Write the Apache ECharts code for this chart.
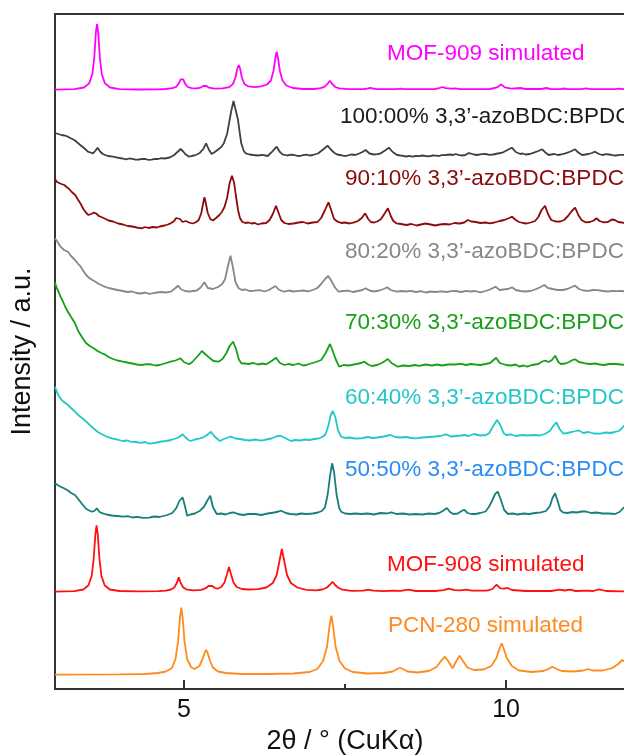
<!DOCTYPE html>
<html><head><meta charset="utf-8">
<script src="https://cdn.jsdelivr.net/npm/echarts@6/dist/echarts.min.js"></script>
<style>html,body{margin:0;padding:0;background:#fff;overflow:hidden}#c{width:624px;height:756px}</style>
</head><body><div id="c"></div><script>
const traceNames = ['MOF-909 simulated','100:00% 3,3\u2019-azoBDC:BPDC','90:10% 3,3\u2019-azoBDC:BPDC','80:20% 3,3\u2019-azoBDC:BPDC','70:30% 3,3\u2019-azoBDC:BPDC','60:40% 3,3\u2019-azoBDC:BPDC','50:50% 3,3\u2019-azoBDC:BPDC','MOF-908 simulated','PCN-280 simulated'];
const offsets = [599, 533, 464, 397, 324, 247, 172, 97, 14];
const lineColors = ['#ff00ff','#404040','#8b0a0a','#878787','#17a017','#22c8c8','#167e7c','#ff1010','#ff8a1e'];
const labelColors = ['#ff00ff','#1a1a1a','#8b0a0a','#878787','#17a017','#22c8c8','#2a8cf5','#ff1010','#ff8a1e'];
const labelPos = [[387,54],[340,117],[345,179],[345,252],[345,323],[345,398],[345,470],[387,565],[388,626]];
const xTicks = [5, 10];
const xMinorTicks = [7.5];

const mof909 = [[3.00,0.4],[3.30,0.9],[3.45,2.5],[3.53,6.6],[3.58,16],[3.61,33],[3.635,58],[3.653,66],[3.67,58],[3.695,33],[3.725,16],[3.775,6.6],[3.855,2.5],[4.00,0.9],[4.3,0.5],[4.6,0.7],[4.72,1],[4.82,1.8],[4.88,3.2],[4.92,6.4],[4.95,10.6],[4.969,12.3],[4.99,10.6],[5.02,6.2],[5.06,3],[5.12,1.8],[5.2,1.6],[5.26,2.4],[5.30,4],[5.325,5.7],[5.35,4],[5.39,2.3],[5.47,1.4],[5.6,1.6],[5.70,2.8],[5.76,5.9],[5.80,12.5],[5.83,21.5],[5.851,25],[5.872,21.5],[5.90,12.5],[5.94,6],[6.0,3.6],[6.1,2.8],[6.2,3.6],[6.29,5.5],[6.35,9.5],[6.39,19],[6.42,32],[6.44,38.3],[6.46,32],[6.49,19],[6.53,9.5],[6.59,4.5],[6.69,2],[6.85,1],[7.02,1],[7.12,1.8],[7.18,3.2],[7.225,5.8],[7.265,9.3],[7.305,5.8],[7.35,3],[7.41,1.6],[7.55,0.8],[7.80,1],[7.86,1.6],[7.895,2.2],[7.93,1.5],[8.0,0.8],[8.3,0.8],[8.36,1.3],[8.42,0.8],[8.9,1],[8.96,1.9],[9.01,3],[9.06,1.8],[9.15,1.3],[9.21,1.7],[9.28,0.9],[9.75,1],[9.86,2.6],[9.923,5.5],[9.98,2.6],[10.08,1.3],[10.22,2],[10.3,1],[10.55,1],[10.62,2],[10.69,1],[10.84,0.9],[10.9,1.5],[10.96,0.9],[11.17,0.9],[11.24,1.7],[11.31,0.9],[11.69,0.9],[11.75,1.4],[11.82,0.8],[12.0,0.6]];

const azo100 = [[3.0,23],[3.05,22],[3.1,21],[3.15,20.5],[3.2,19.3],[3.25,17.5],[3.3,16],[3.36,12.7],[3.41,10],[3.45,8],[3.51,4.3],[3.55,3.5],[3.59,2.7],[3.63,5.5],[3.66,8.3],[3.7,4.5],[3.74,2],[3.78,1],[3.82,0],[3.9,-0.7],[3.95,-1.3],[4.0,-2],[4.05,-2.5],[4.1,-3.3],[4.15,-2.5],[4.2,-2.8],[4.25,-3.7],[4.3,-3.5],[4.35,-2.8],[4.4,-3],[4.45,-3.8],[4.5,-3.6],[4.55,-2.8],[4.6,-3],[4.65,-2.2],[4.7,-2.5],[4.78,-1.5],[4.85,1],[4.9,4],[4.95,7],[4.99,4.5],[5.02,2],[5.08,-0.7],[5.12,0],[5.16,0.5],[5.2,1.5],[5.24,2.7],[5.3,7],[5.345,12.7],[5.39,6],[5.43,2],[5.48,4],[5.52,6],[5.58,9],[5.62,12.7],[5.67,22],[5.70,32.7],[5.735,45],[5.77,55],[5.80,47],[5.84,36],[5.865,24],[5.89,12.7],[5.93,5],[5.96,2.7],[6.02,1.5],[6.08,1],[6.15,0.5],[6.22,1.2],[6.3,0],[6.37,4.3],[6.44,9.3],[6.49,4],[6.53,1.7],[6.6,0.5],[6.66,1.3],[6.71,1],[6.76,0.2],[6.8,0],[6.85,0.8],[6.9,1.3],[6.95,0.5],[7.0,1],[7.08,2.5],[7.15,6],[7.23,10.3],[7.28,6.5],[7.33,3.3],[7.38,1.5],[7.42,1],[7.47,0.3],[7.51,0],[7.56,0.8],[7.6,1.5],[7.66,1],[7.72,2.5],[7.77,4],[7.82,6],[7.88,2.5],[7.95,1.5],[8.0,1.8],[8.05,2.5],[8.12,5.5],[8.18,8.3],[8.24,4],[8.31,1],[8.36,0.5],[8.4,0.2],[8.45,-0.5],[8.5,0.2],[8.545,-0.7],[8.6,0],[8.65,-0.2],[8.7,0.5],[8.75,0],[8.8,-0.3],[8.86,0.5],[8.91,0.3],[8.96,0],[9.0,0.8],[9.06,1],[9.13,1.5],[9.18,1],[9.215,2],[9.26,1.2],[9.3,0.5],[9.37,1],[9.41,2.8],[9.45,2.5],[9.5,1.5],[9.55,1],[9.62,1.8],[9.68,2],[9.74,1.2],[9.8,1.5],[9.87,2.5],[9.94,3.3],[10.02,6],[10.09,8.3],[10.15,4],[10.22,2],[10.26,2.5],[10.3,1.5],[10.37,2],[10.43,3.3],[10.5,5],[10.56,6.7],[10.61,3.5],[10.66,1],[10.7,1.5],[10.75,2],[10.8,1],[10.85,1.5],[10.92,2.7],[11.0,4.5],[11.07,6.7],[11.12,3.5],[11.18,1],[11.23,1.5],[11.28,2],[11.33,3],[11.38,4.3],[11.44,2],[11.49,1],[11.55,1.8],[11.6,1.5],[11.65,0.8],[11.7,0.5],[11.77,1.2],[11.85,1],[12.0,1]];

const azo90 = [[3.0,46],[3.03,43],[3.06,45],[3.1,41],[3.143,40],[3.18,38],[3.22,36],[3.26,33],[3.314,30],[3.36,25],[3.40,21],[3.44,16],[3.485,12],[3.52,10],[3.56,11],[3.6,12.3],[3.64,11.5],[3.68,9],[3.72,8],[3.77,6.5],[3.83,4.5],[3.9,3.5],[3.98,1.5],[4.055,0.5],[4.13,-1],[4.2,-1.5],[4.27,-2.5],[4.339,-3.3],[4.4,-2],[4.45,-3],[4.52,-2],[4.58,-2.5],[4.624,-1.5],[4.7,-0.5],[4.75,0.5],[4.795,1.7],[4.85,4],[4.88,7],[4.909,9],[4.94,6],[4.98,3],[5.03,4],[5.08,2.5],[5.13,1.5],[5.18,2.5],[5.23,5],[5.27,12],[5.30,22],[5.319,27.7],[5.34,22],[5.37,12],[5.41,6],[5.45,4.5],[5.5,7],[5.55,10],[5.592,13.3],[5.63,18],[5.67,27],[5.71,42],[5.746,49.3],[5.78,42],[5.81,28],[5.84,15],[5.87,7],[5.905,3.3],[5.95,2],[6.0,2.5],[6.048,1.5],[6.1,2],[6.15,0.5],[6.2,1.5],[6.276,2],[6.33,5],[6.38,11],[6.429,19.3],[6.47,12],[6.51,5],[6.56,2],[6.62,1],[6.7,1.5],[6.78,2.5],[6.85,3],[6.92,1.5],[7.0,2.5],[7.073,3],[7.13,7],[7.19,15],[7.244,22.7],[7.29,14],[7.33,6],[7.386,3.3],[7.44,2],[7.5,2.5],[7.57,1.5],[7.642,2.7],[7.7,4],[7.76,7],[7.813,11.7],[7.86,6],[7.9,3],[7.95,2.5],[8.0,3.5],[8.06,6],[8.12,12],[8.166,16.7],[8.21,9],[8.25,4],[8.297,1.7],[8.37,1],[8.45,0],[8.53,1],[8.611,-0.5],[8.68,0.5],[8.75,1.5],[8.83,0.5],[8.9,-0.5],[8.97,0.5],[9.05,1],[9.12,0.5],[9.2,2],[9.28,1.5],[9.35,2.5],[9.408,5],[9.46,3.5],[9.53,3],[9.6,2],[9.68,2.5],[9.749,1.7],[9.82,2.5],[9.9,4],[9.97,5],[10.03,6.5],[10.091,8.3],[10.15,5],[10.2,3],[10.26,2],[10.319,1.5],[10.38,2.5],[10.45,4],[10.5,8],[10.55,15],[10.604,19.3],[10.65,11],[10.7,5],[10.775,3.3],[10.84,3.5],[10.9,5],[10.96,9],[11.02,14],[11.071,17.3],[11.12,10],[11.17,5],[11.23,2.7],[11.3,3],[11.36,4.5],[11.401,6.7],[11.45,4],[11.515,2.7],[11.58,3],[11.64,5.5],[11.686,5],[11.74,3],[11.8,2.5],[11.85,1.7],[12.0,2]];

const azo80 = [[3.0,53.7],[3.04,50],[3.085,45.3],[3.14,42],[3.2,40.3],[3.25,36],[3.31,32],[3.36,28],[3.40,25.3],[3.44,21],[3.485,17],[3.53,14],[3.58,12],[3.628,10.3],[3.68,8],[3.72,7],[3.77,5.3],[3.83,4],[3.9,3],[3.97,2],[4.055,1],[4.12,0],[4.2,0.5],[4.26,-1],[4.33,-1.5],[4.4,-0.5],[4.46,-1.8],[4.51,-1.3],[4.58,-0.5],[4.65,0],[4.72,-0.5],[4.795,0.3],[4.85,3],[4.909,6.3],[4.96,2.5],[5.02,1],[5.08,0.3],[5.14,1],[5.2,1.5],[5.26,4.5],[5.319,9.7],[5.37,4],[5.45,3],[5.53,5],[5.592,7.7],[5.64,13],[5.68,25],[5.723,36.3],[5.76,25],[5.80,10],[5.85,3.7],[5.9,2],[5.95,2.5],[6.02,1],[6.1,1.3],[6.18,1.8],[6.25,0.5],[6.32,2],[6.37,4],[6.422,6],[6.47,2.5],[6.52,1],[6.56,0.3],[6.63,1.5],[6.7,0.5],[6.78,1.2],[6.85,1.5],[6.93,0.7],[7.0,2],[7.07,4],[7.13,8],[7.19,13],[7.24,16],[7.29,11],[7.34,5],[7.40,0.3],[7.47,1],[7.55,1.3],[7.62,0],[7.7,1],[7.77,2],[7.82,3.7],[7.88,1.5],[7.95,0.5],[8.03,1.5],[8.1,3],[8.155,4.7],[8.21,2],[8.3,0.3],[8.38,1],[8.45,0.5],[8.52,1.2],[8.6,0],[8.68,0.8],[8.75,-0.5],[8.83,0.5],[8.9,0],[9.0,0.7],[9.08,0],[9.15,0.8],[9.22,1],[9.3,0],[9.38,1.2],[9.45,0.5],[9.52,1],[9.6,-0.3],[9.68,1],[9.75,2.5],[9.835,5.3],[9.9,2],[9.96,2.5],[10.03,3],[10.091,4.7],[10.15,2],[10.22,1],[10.3,0.5],[10.38,1],[10.45,2.5],[10.52,4.5],[10.592,7],[10.65,4],[10.72,3],[10.8,2],[10.88,2],[10.95,3],[11.02,5],[11.071,6.3],[11.13,3],[11.2,1.5],[11.28,1.2],[11.35,2],[11.42,1.8],[11.5,1],[11.58,0.5],[11.65,1.2],[11.72,0.8],[11.8,1],[11.85,0.5],[12.0,1]];

const azo70 = [[3.0,82.7],[3.02,78],[3.05,74],[3.085,68.3],[3.12,64],[3.16,58],[3.2,53.3],[3.25,48],[3.31,41.7],[3.36,34],[3.43,26.7],[3.48,22],[3.54,19],[3.6,16.7],[3.66,14],[3.72,12],[3.77,10.7],[3.83,8],[3.9,6],[3.97,4.5],[4.055,3.3],[4.12,2.5],[4.2,1.5],[4.27,0.5],[4.339,0],[4.42,0.8],[4.5,0.5],[4.56,-0.5],[4.624,0],[4.7,1.5],[4.795,3.3],[4.87,4.5],[4.948,6.7],[5.0,3],[5.08,0.7],[5.13,3],[5.18,6.5],[5.23,10],[5.279,14],[5.33,11],[5.393,7.3],[5.46,4],[5.535,3.3],[5.6,6],[5.66,12],[5.71,19],[5.763,23.3],[5.81,16],[5.85,6],[5.89,1.7],[5.95,1.5],[6.0,1],[6.08,2],[6.15,0.5],[6.22,1.5],[6.28,0.7],[6.36,4],[6.43,7.3],[6.49,2],[6.56,0],[6.62,1],[6.7,0],[6.78,1.5],[6.85,-0.5],[6.9,0],[6.97,1.5],[7.05,3],[7.13,5],[7.2,12],[7.267,21],[7.31,14],[7.36,5],[7.41,-1.7],[7.48,0],[7.55,-0.5],[7.6,0],[7.68,1],[7.75,2],[7.80,3.3],[7.86,0.5],[7.92,-1],[8.0,0],[8.07,2],[8.12,4],[8.166,6],[8.22,2],[8.25,0],[8.32,-1.7],[8.4,-0.5],[8.5,-1],[8.58,0],[8.65,-0.8],[8.75,0.5],[8.85,-0.5],[8.93,0.5],[9.0,-0.5],[9.1,0.5],[9.2,0.5],[9.3,1.2],[9.38,0],[9.45,1],[9.52,0.5],[9.6,0],[9.68,1],[9.75,2],[9.846,7.3],[9.9,2],[9.95,1],[10.0,0],[10.08,-0.5],[10.15,0.5],[10.2,-1.5],[10.27,-0.5],[10.33,-1.7],[10.4,0],[10.5,1],[10.56,3.5],[10.61,4.3],[10.66,3],[10.71,5],[10.763,9.3],[10.81,3],[10.85,1],[10.92,1.5],[10.98,3],[11.03,5],[11.071,5.7],[11.13,3],[11.23,1.7],[11.3,1],[11.38,1.5],[11.45,0.5],[11.52,0],[11.6,1],[11.7,1],[11.78,0.5],[11.85,0],[12.0,0.5]];

const azo60 = [[3.0,55.3],[3.03,50],[3.06,46],[3.085,43.7],[3.12,41],[3.16,39],[3.2,37],[3.25,34],[3.31,30.3],[3.36,27],[3.42,24],[3.485,20.3],[3.54,17],[3.6,13.5],[3.66,10.3],[3.72,8],[3.8,5.5],[3.88,3.7],[3.96,2.5],[4.05,1],[4.12,1.5],[4.17,0.3],[4.25,0],[4.33,-0.8],[4.4,0],[4.45,-1.5],[4.51,-1.3],[4.58,-0.5],[4.65,0.5],[4.72,1],[4.8,2],[4.87,3.5],[4.93,5],[4.98,7.7],[5.02,5],[5.07,2],[5.11,1],[5.17,2.5],[5.25,3.7],[5.31,5],[5.36,7],[5.42,10.3],[5.47,6],[5.52,3],[5.56,1],[5.62,3],[5.68,4.5],[5.73,5.3],[5.8,3.5],[5.87,3],[5.95,2],[6.03,1.5],[6.1,2.5],[6.2,1.3],[6.28,2.5],[6.36,3.5],[6.43,5.5],[6.5,6.3],[6.57,4],[6.66,1],[6.73,2],[6.8,1.5],[6.88,2.5],[6.95,2],[7.02,3],[7.1,3.7],[7.16,5.5],[7.2,8],[7.24,16],[7.28,27],[7.31,31],[7.35,25],[7.39,12],[7.44,5.3],[7.5,4],[7.57,4.5],[7.65,3.5],[7.75,3.7],[7.85,5],[7.93,4],[8.0,4.5],[8.1,5.5],[8.2,7],[8.28,5],[8.35,4.5],[8.45,5],[8.53,4],[8.6,3.7],[8.7,4.5],[8.8,5],[8.9,5.5],[8.98,6],[9.07,7.7],[9.14,5.5],[9.22,6],[9.3,6.5],[9.35,7],[9.42,6],[9.5,8],[9.6,6.5],[9.69,7],[9.74,9],[9.8,16],[9.86,22],[9.91,17],[9.96,9],[10.0,7],[10.08,7.5],[10.15,6],[10.25,7],[10.33,6.5],[10.43,7],[10.52,6.5],[10.6,8],[10.68,11],[10.73,16],[10.78,19.7],[10.83,13],[10.89,8.3],[10.95,9],[11.02,10],[11.08,11],[11.12,11.7],[11.2,9],[11.28,10],[11.36,8.5],[11.46,8.3],[11.55,9.5],[11.62,9],[11.69,10],[11.75,11],[11.8,14],[11.85,17.7],[11.9,19],[12.0,15]];

const azo50 = [[3.0,33.7],[3.04,32],[3.08,30.5],[3.14,28.7],[3.2,26.5],[3.25,24],[3.31,22],[3.36,18],[3.42,13],[3.485,8],[3.53,6.5],[3.57,5.3],[3.61,6],[3.65,8.7],[3.69,5],[3.74,3.7],[3.8,2.5],[3.88,1.5],[3.96,1],[4.06,0.3],[4.13,0.8],[4.2,-0.5],[4.28,0.2],[4.36,-0.8],[4.46,-0.7],[4.54,0.5],[4.62,0],[4.68,1],[4.74,2],[4.82,4],[4.88,8.7],[4.93,16],[4.98,19.7],[5.02,10],[5.05,1.3],[5.1,2.5],[5.17,3.5],[5.25,6.3],[5.31,10],[5.36,16],[5.41,21.3],[5.45,10],[5.51,3],[5.58,3.5],[5.65,2.5],[5.71,4],[5.77,4.7],[5.84,3],[5.92,2],[6.0,3],[6.11,3],[6.2,2],[6.3,3.5],[6.4,4.5],[6.47,5.5],[6.51,6.3],[6.58,4],[6.65,3],[6.75,2.5],[6.82,3.5],[6.9,3],[7.0,3.5],[7.08,4.5],[7.14,6],[7.19,9.7],[7.23,22],[7.27,42],[7.30,53.7],[7.33,45],[7.37,22],[7.41,9],[7.44,5.3],[7.5,3.5],[7.58,3],[7.66,3.5],[7.75,3],[7.85,3.5],[7.95,2.5],[8.05,4],[8.15,3.5],[8.22,4.7],[8.3,3],[8.4,3.5],[8.5,2.5],[8.6,3],[8.7,2.5],[8.8,3.5],[8.89,3],[8.96,4],[9.03,6.5],[9.08,9],[9.13,5],[9.18,3],[9.25,3.5],[9.31,6],[9.35,7.3],[9.4,4],[9.46,3],[9.52,3],[9.6,4],[9.68,5.5],[9.73,9.7],[9.78,16],[9.83,23],[9.87,25.3],[9.92,17],[9.97,7],[10.03,3],[10.1,3.5],[10.18,2.5],[10.27,3.5],[10.36,3],[10.45,4],[10.54,4.7],[10.62,6],[10.68,11],[10.72,19],[10.76,23.7],[10.8,16],[10.84,7],[10.88,4.7],[10.95,4],[11.03,5],[11.1,4.5],[11.17,5.5],[11.23,5.7],[11.32,4],[11.4,4.5],[11.5,3.5],[11.6,3.5],[11.69,3],[11.76,5],[11.81,8.5],[11.85,10.3],[11.92,9],[12.0,6]];

const mof908 = [[3.00,0.4],[3.30,0.9],[3.44,2.5],[3.52,6.7],[3.57,16.3],[3.60,33],[3.627,58],[3.645,66.6],[3.663,58],[3.69,33],[3.72,16.3],[3.77,6.7],[3.85,2.5],[4.00,1],[4.3,0.6],[4.6,0.8],[4.72,1.3],[4.80,2.5],[4.85,4.5],[4.89,9],[4.92,14.6],[4.95,9],[4.99,4.5],[5.05,2.3],[5.15,1.6],[5.27,2.2],[5.34,3.8],[5.38,6],[5.41,7.5],[5.44,6],[5.48,4],[5.52,3.3],[5.58,5],[5.63,9.5],[5.67,18],[5.70,25],[5.73,18],[5.77,9.5],[5.82,5],[5.9,3],[6.0,2.5],[6.15,2.8],[6.28,4.5],[6.38,9],[6.44,17],[6.48,30],[6.52,43],[6.56,30],[6.60,17],[6.66,9],[6.76,4.5],[6.9,2.2],[7.05,1.6],[7.15,2.5],[7.22,4.5],[7.27,7.5],[7.306,10.3],[7.34,7.5],[7.39,4.5],[7.46,2.3],[7.6,1.2],[7.78,1.3],[7.86,2.3],[7.94,1.3],[8.1,0.9],[8.24,1.3],[8.36,1.2],[8.485,2.3],[8.6,1],[8.9,1],[9.03,1.8],[9.11,3.3],[9.2,1.8],[9.29,1.6],[9.38,2.3],[9.47,1.3],[9.7,1.3],[9.79,3],[9.852,7.3],[9.91,3.6],[9.96,3.3],[10.023,4],[10.09,2],[10.3,1],[10.7,1],[10.83,2.3],[10.91,1.5],[10.99,2.3],[11.08,1],[11.258,1.3],[11.35,1],[11.441,2.7],[11.55,1],[11.8,0.7],[12.0,0.6]];

const pcn280 = [[3.0,0.3],[4.0,0.6],[4.4,1],[4.6,2],[4.72,3.5],[4.81,6.7],[4.87,16],[4.91,33.6],[4.94,58],[4.96,67.3],[4.98,58],[5.01,33.6],[5.05,16],[5.11,8],[5.165,6],[5.24,9],[5.29,16],[5.32,22],[5.345,25],[5.37,22],[5.40,15],[5.45,7.5],[5.53,3.5],[5.65,2],[5.9,1],[6.3,1],[6.7,1.5],[6.95,3],[7.07,6],[7.16,14],[7.22,28],[7.26,49],[7.289,59.3],[7.315,49],[7.355,28],[7.415,14],[7.5,6.5],[7.62,3],[7.85,1.5],[8.1,2],[8.24,3.5],[8.31,6],[8.354,7.3],[8.40,6],[8.47,3.5],[8.62,2.5],[8.80,4],[8.92,8],[8.99,14],[9.049,18.3],[9.10,14],[9.169,6.7],[9.22,13],[9.277,19.3],[9.33,14],[9.40,7.5],[9.5,5],[9.65,5.5],[9.77,9],[9.85,17],[9.90,27],[9.932,31.7],[9.96,27],[10.01,17],[10.09,9],[10.2,4.5],[10.4,3],[10.58,4],[10.67,6.5],[10.718,8.3],[10.77,6.5],[10.86,4],[11.05,3.5],[11.2,4.5],[11.276,6],[11.34,4.5],[11.5,4.5],[11.65,7],[11.74,11],[11.80,15],[11.85,13],[11.92,8],[12.0,5]];

const traces = [mof909, azo100, azo90, azo80, azo70, azo60, azo50, mof908, pcn280];

const FONT = '"Liberation Sans", Arial, sans-serif';
const X_MIN = 3, X_MAX = 12;
const chart = echarts.init(document.getElementById('c'), null, {renderer: 'canvas'});
const series = traces.map((d, i) => ({
  type: 'line', name: traceNames[i], xAxisIndex: 0, yAxisIndex: 0,
  data: d.map(p => [p[0], p[1] + offsets[i]]),
  showSymbol: false, symbol: 'none', silent: true, animation: false,
  lineStyle: {color: lineColors[i], width: 1.8}
}));
const graphics = traceNames.map((t, i) => ({
  type: 'text', x: labelPos[i][0], y: labelPos[i][1], silent: true, z: 10,
  style: {text: t, fill: labelColors[i], fontSize: 22.5, fontFamily: FONT, verticalAlign: 'middle', align: 'left'}
}));
chart.setOption({
  animation: false,
  backgroundColor: '#fff',
  grid: {left: 55, top: 14, width: 580, height: 675, show: false, outerBoundsMode: 'none', containLabel: false},
  xAxis: [
    {type: 'value', min: X_MIN, max: X_MAX, position: 'bottom',
     axisLine: {show: true, lineStyle: {color: '#333', width: 2}},
     axisTick: {show: true, inside: true, length: 9, customValues: xTicks, lineStyle: {color: '#333', width: 2}},
     axisLabel: {show: true, customValues: xTicks, fontSize: 25, color: '#111', margin: 9, fontFamily: FONT},
     splitLine: {show: false},
     name: '2\u03b8 / \u00b0 (CuK\u03b1)', nameLocation: 'middle', nameGap: 38,
     nameTextStyle: {fontSize: 27, color: '#111', fontFamily: FONT}},
    {type: 'value', min: X_MIN, max: X_MAX, position: 'bottom',
     axisLine: {show: false},
     axisTick: {show: true, inside: true, length: 5, customValues: xMinorTicks, lineStyle: {color: '#333', width: 2}},
     axisLabel: {show: false}, splitLine: {show: false}},
    {type: 'value', min: X_MIN, max: X_MAX, position: 'top',
     axisLine: {show: true, lineStyle: {color: '#333', width: 2}},
     axisTick: {show: false}, axisLabel: {show: false}, splitLine: {show: false}}
  ],
  yAxis: {type: 'value', min: 0, max: 675,
    axisLine: {show: true, lineStyle: {color: '#333', width: 2}},
    axisTick: {show: false}, axisLabel: {show: false}, splitLine: {show: false},
    name: 'Intensity / a.u.', nameLocation: 'middle', nameGap: 19,
    nameTextStyle: {fontSize: 27, color: '#111', fontFamily: FONT}},
  series: series,
  graphic: graphics
});
</script></body></html>
